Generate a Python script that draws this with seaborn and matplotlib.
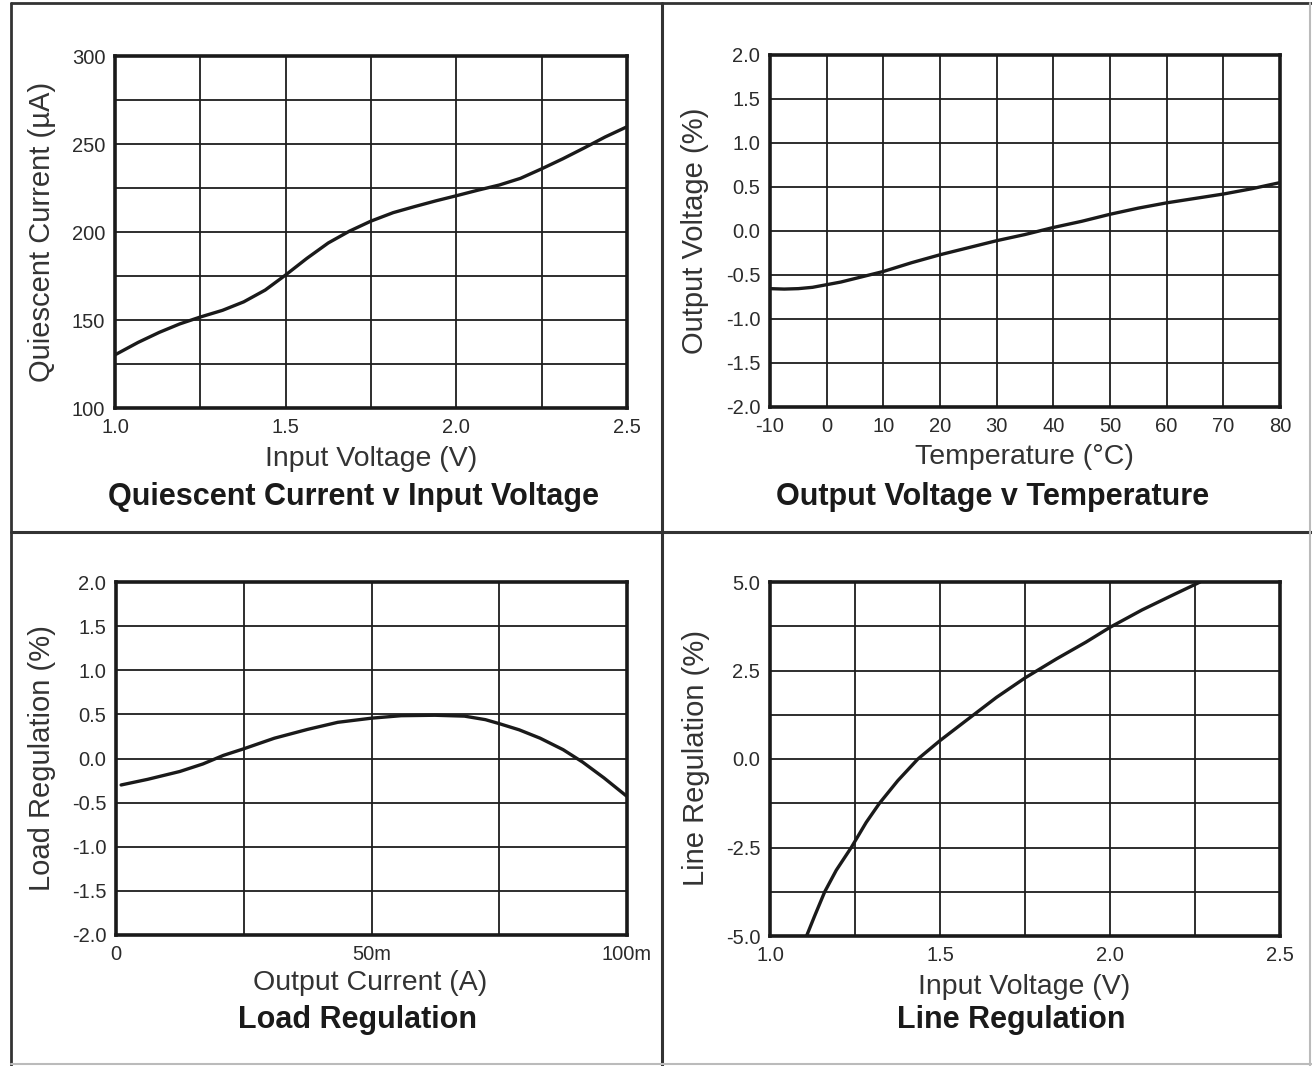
import numpy as np
import pandas as pd
import matplotlib
matplotlib.use("Agg")
import matplotlib.pyplot as plt
from matplotlib.lines import Line2D
import seaborn as sns

# ---------------- data ----------------
qc_voltage = [1.0, 1.068, 1.13, 1.19, 1.25, 1.315, 1.377, 1.44, 1.5, 1.562, 1.625,
              1.687, 1.75, 1.815, 1.877, 1.94, 2.0, 2.064, 2.126, 2.188, 2.25,
              2.312, 2.374, 2.436, 2.5]
qc_current = [130.2, 137.3, 143.0, 147.8, 151.7, 155.5, 160.3, 167.0, 175.6, 185.0,
              193.8, 200.5, 206.2, 211.0, 214.4, 217.7, 220.6, 223.8, 226.7, 230.5,
              235.9, 241.6, 247.7, 254.0, 259.8]

ov_temp = [-10, -7.5, -5, -2.5, 0, 2.5, 5, 7.5, 10, 15, 20, 25, 30, 35, 40, 45,
           50, 55, 60, 65, 70, 75, 80]
ov_pct = [-0.655, -0.66, -0.655, -0.64, -0.61, -0.58, -0.54, -0.50, -0.46, -0.36,
          -0.27, -0.19, -0.11, -0.04, 0.04, 0.11, 0.19, 0.26, 0.32, 0.37, 0.42,
          0.48, 0.55]

lr_current = [0.001, 0.0062, 0.0125, 0.017, 0.021, 0.025, 0.031, 0.0375, 0.0434,
              0.050, 0.0558, 0.0624, 0.0682, 0.0723, 0.075, 0.0789, 0.083, 0.0875,
              0.0913, 0.0955, 0.100]
lr_pct = [-0.30, -0.236, -0.147, -0.062, 0.035, 0.11, 0.23, 0.33, 0.41, 0.457,
          0.485, 0.49, 0.48, 0.44, 0.395, 0.325, 0.23, 0.10, -0.04, -0.22, -0.43]

ln_voltage = [1.1075, 1.131, 1.161, 1.195, 1.239, 1.283, 1.322, 1.376, 1.435, 1.5,
              1.576, 1.666, 1.75, 1.843, 1.929, 2.0, 2.094, 2.18, 2.25, 2.265]
ln_pct = [-5.0, -4.44, -3.75, -3.14, -2.5, -1.79, -1.25, -0.61, 0.0, 0.52,
          1.08, 1.74, 2.29, 2.83, 3.30, 3.72, 4.21, 4.61, 4.93, 5.0]

# tick definitions
qc_xticks = [1.0, 1.25, 1.5, 1.75, 2.0, 2.25, 2.5]
qc_xlabels = ["1.0", "", "1.5", "", "2.0", "", "2.5"]
qc_yticks = [100, 125, 150, 175, 200, 225, 250, 275, 300]
qc_ylabels = ["100", "", "150", "", "200", "", "250", "", "300"]

ov_xticks = [-10, 0, 10, 20, 30, 40, 50, 60, 70, 80]
ov_xlabels = [str(t) for t in ov_xticks]
pct_yticks = [-2.0, -1.5, -1.0, -0.5, 0.0, 0.5, 1.0, 1.5, 2.0]
pct_ylabels = ["-2.0", "-1.5", "-1.0", "-0.5", "0.0", "0.5", "1.0", "1.5", "2.0"]

lr_xticks = [0.0, 0.025, 0.05, 0.075, 0.1]
lr_xlabels = ["0", "", "50m", "", "100m"]

ln_xticks = qc_xticks
ln_xlabels = qc_xlabels
ln_yticks = [-5.0, -3.75, -2.5, -1.25, 0.0, 1.25, 2.5, 3.75, 5.0]
ln_ylabels = ["-5.0", "", "-2.5", "", "0.0", "", "2.5", "", "5.0"]

# ---------------- style ----------------
sns.set_style("white")
plt.rcParams["font.family"] = ["Liberation Sans", "DejaVu Sans"]

W, H = 1312, 1066
fig = plt.figure(figsize=(W / 100, H / 100), dpi=100)
fig.patch.set_facecolor("white")


def px_axes(l, t, r, b):
    return fig.add_axes([l / W, 1 - b / H, (r - l) / W, (b - t) / H])


TXT = "#2b2b2b"
LINE = "#1a1a1a"


def style(ax, x, y, xlim, ylim, xt, xl, yt, yl):
    sns.lineplot(x=x, y=y, ax=ax, color=LINE, linewidth=2.4, sort=False,
                 estimator=None, solid_joinstyle="round", solid_capstyle="round")
    ax.set_xlim(*xlim)
    ax.set_ylim(*ylim)
    ax.set_xticks(xt)
    ax.set_xticklabels(xl)
    ax.set_yticks(yt)
    ax.set_yticklabels(yl)
    ax.grid(True, color="#1e1e1e", linewidth=1.3)
    ax.set_axisbelow(True)
    for s in ax.spines.values():
        s.set_visible(True)
        s.set_color(LINE)
        s.set_linewidth(2.6)
    ax.tick_params(length=0, labelsize=14.5, colors=TXT, pad=7)
    ax.set_xlabel("")
    ax.set_ylabel("")


ax1 = px_axes(115, 56, 627, 408)
style(ax1, qc_voltage, qc_current, (1.0, 2.5), (100, 300),
      qc_xticks, qc_xlabels, qc_yticks, qc_ylabels)

ax2 = px_axes(770, 55, 1280, 407)
style(ax2, ov_temp, ov_pct, (-10, 80), (-2.0, 2.0),
      ov_xticks, ov_xlabels, pct_yticks, pct_ylabels)

ax3 = px_axes(116, 582, 627, 935)
style(ax3, lr_current, lr_pct, (0.0, 0.1), (-2.0, 2.0),
      lr_xticks, lr_xlabels, pct_yticks, pct_ylabels)

ax4 = px_axes(770, 582, 1280, 936)
style(ax4, ln_voltage, ln_pct, (1.0, 2.5), (-5.0, 5.0),
      ln_xticks, ln_xlabels, ln_yticks, ln_ylabels)


def ftext(x, y, s, **kw):
    fig.text(x / W, 1 - y / H, s, ha="center", va="center", **kw)


LAB = dict(fontsize=20.5, color="#333333")
YLAB = dict(fontsize=21, color="#333333")
TIT = dict(fontsize=22, color="#1a1a1a", fontweight="bold")

# x labels
ftext(371, 459, "Input Voltage (V)", **LAB)
ftext(1024, 457, "Temperature (°C)", **LAB)
ftext(370, 983, "Output Current (A)", **LAB)
ftext(1024, 987, "Input Voltage (V)", **LAB)
# y labels
ftext(42, 232, "Quiescent Current (µA)", rotation=90, **YLAB)
ftext(695, 231, "Output Voltage (%)", rotation=90, **YLAB)
ftext(42, 758, "Load Regulation (%)", rotation=90, **YLAB)
ftext(696, 758, "Line Regulation (%)", rotation=90, **YLAB)
# titles
ftext(354, 497, "Quiescent Current v Input Voltage", **TIT)
ftext(993, 497, "Output Voltage v Temperature", **TIT)
ftext(358, 1020, "Load Regulation", **TIT)
ftext(1011, 1020, "Line Regulation", **TIT)


# frame lines
def fline(x0, y0, x1, y1, color, lw):
    fig.add_artist(Line2D([x0 / W, x1 / W], [1 - y0 / H, 1 - y1 / H],
                          color=color, linewidth=lw, transform=fig.transFigure))


fline(11, 3, 1312, 3, "#333333", 2.0)
fline(11, 3, 11, 1066, "#333333", 2.0)
fline(662, 3, 662, 1066, "#333333", 2.2)
fline(11, 532, 1312, 532, "#333333", 2.2)
fline(1310, 3, 1310, 1066, "#bbbbbb", 1.5)
fline(11, 1064, 1312, 1064, "#bbbbbb", 1.5)

fig.savefig("out.png", dpi=100, facecolor="white")
